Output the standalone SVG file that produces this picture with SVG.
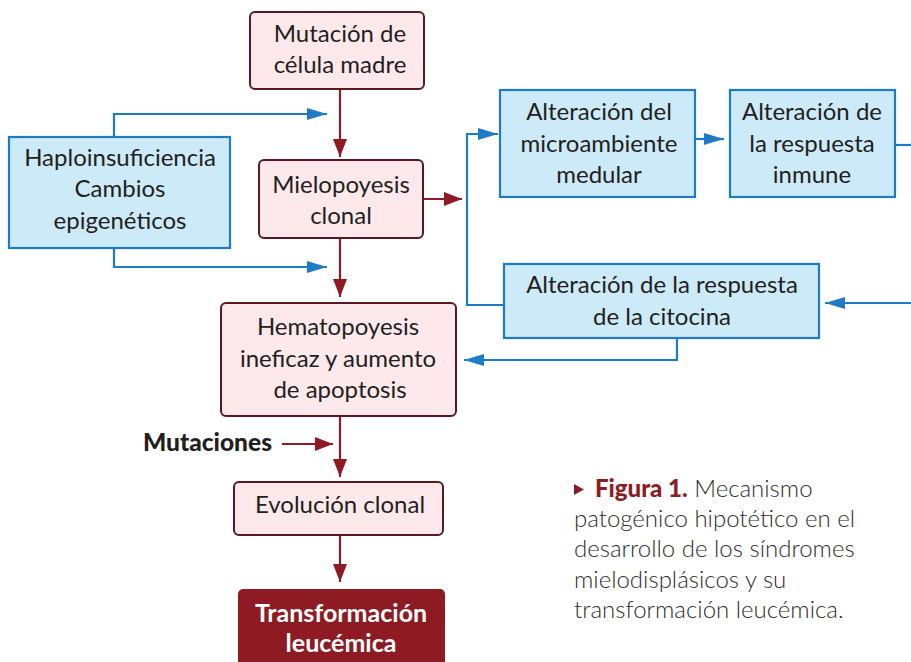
<svg xmlns="http://www.w3.org/2000/svg" width="911" height="662" viewBox="0 0 911 662">
<defs>
<style>
.pk{fill:#fde9eb;stroke:#5a1820;stroke-width:2}
.bl{fill:#cdeaf9;stroke:#1f7bc3;stroke-width:2.2}
.t{font-family:Lato,"Noto Sans",sans-serif;font-size:24px;fill:#231f20;text-anchor:middle}
.rl{fill:none;stroke:#8e1b24;stroke-width:2.2}
.bll{fill:none;stroke:#1f7bc3;stroke-width:2.2}
.cap{font-family:Lato,"Noto Sans",sans-serif;font-size:24px;fill:#2e2e2e;font-weight:300}
</style>
<marker id="ar" viewBox="0 0 18 14" refX="18" refY="7" markerWidth="18" markerHeight="14" markerUnits="userSpaceOnUse" orient="auto"><path d="M0,0 L18,7 L0,14 Z" fill="#8e1b24"/></marker>
<marker id="ab" viewBox="0 0 20 12" refX="20" refY="6" markerWidth="20" markerHeight="12" markerUnits="userSpaceOnUse" orient="auto"><path d="M0,0 L20,6 L0,12 Z" fill="#1f7bc3"/></marker>
</defs>
<rect width="911" height="662" fill="#ffffff"/>
<g id="connectors">
<path class="rl" d="M340,89 V157" marker-end="url(#ar)"/>
<path class="rl" d="M340,238 V297" marker-end="url(#ar)"/>
<path class="rl" d="M423,199 H462" marker-end="url(#ar)"/>
<path class="rl" d="M340,416 V477" marker-end="url(#ar)"/>
<path class="rl" d="M282,444 H333" marker-end="url(#ar)"/>
<path class="rl" d="M340,535 V582" marker-end="url(#ar)"/>
<path class="bll" d="M114,137 V114 H327" marker-end="url(#ab)"/>
<path class="bll" d="M114,248 V267 H327" marker-end="url(#ab)"/>
<path class="bll" d="M504,305 H467 V134 H498" marker-end="url(#ab)"/>
<path class="bll" d="M695,139 H724" marker-end="url(#ab)"/>
<path class="bll" d="M895,145 H911"/>
<path class="bll" d="M911,303 H825" marker-end="url(#ab)"/>
<path class="bll" d="M677,338 V360 H464" marker-end="url(#ab)"/>
</g>
<g id="n-mutacion">
<rect class="pk" x="250" y="12" width="174" height="77" rx="5"/>
<text class="t" x="340" y="42">Mutación de</text>
<text class="t" x="340" y="73">célula madre</text>
</g>
<g id="n-haplo">
<rect class="bl" x="9" y="137" width="221" height="111"/>
<text class="t" x="120" y="166">Haploinsuficiencia</text>
<text class="t" x="120" y="197">Cambios</text>
<text class="t" x="120" y="229">epigenéticos</text>
</g>
<g id="n-mielo">
<rect class="pk" x="259" y="160" width="164" height="78" rx="5"/>
<text class="t" x="341" y="193">Mielopoyesis</text>
<text class="t" x="341" y="224">clonal</text>
</g>
<g id="n-micro">
<rect class="bl" x="500" y="90" width="195" height="107"/>
<text class="t" x="599" y="120">Alteración del</text>
<text class="t" x="599" y="152">microambiente</text>
<text class="t" x="599" y="183">medular</text>
</g>
<g id="n-inmune">
<rect class="bl" x="730" y="90" width="165" height="107"/>
<text class="t" x="812" y="120">Alteración de</text>
<text class="t" x="812" y="152">la respuesta</text>
<text class="t" x="812" y="183">inmune</text>
</g>
<g id="n-citocina">
<rect class="bl" x="504" y="264" width="315" height="74"/>
<text class="t" x="662" y="293">Alteración de la respuesta</text>
<text class="t" x="662" y="325">de la citocina</text>
</g>
<g id="n-hemato">
<rect class="pk" x="221" y="303" width="235" height="113" rx="5"/>
<text class="t" x="338" y="335">Hematopoyesis</text>
<text class="t" x="338" y="367">ineficaz y aumento</text>
<text class="t" x="340" y="398">de apoptosis</text>
</g>
<g id="n-mutaciones">
<text x="143" y="451" style="font-family:Lato,'Noto Sans',sans-serif;font-size:24.5px;font-weight:900;fill:#231f20">Mutaciones</text>
</g>
<g id="n-evolucion">
<rect class="pk" x="234" y="482" width="209" height="53" rx="5"/>
<text class="t" x="340" y="513">Evolución clonal</text>
</g>
<g id="n-transf">
<rect x="238" y="589" width="207" height="80" rx="5" fill="#8e1b24"/>
<text class="t" x="341" y="622" style="fill:#ffffff;font-weight:bold;font-size:25px">Transformación</text>
<text class="t" x="341" y="652" style="fill:#ffffff;font-weight:bold;font-size:25px">leucémica</text>
</g>
<g id="caption">
<path d="M574,484 L584,489.5 L574,495 Z" fill="#8e1b24"/>
<text class="cap" x="595" y="497"><tspan style="font-weight:900;fill:#8e1b24">Figura 1.</tspan> Mecanismo</text>
<text class="cap" x="574" y="527">patogénico hipotético en el</text>
<text class="cap" x="574" y="557">desarrollo de los síndromes</text>
<text class="cap" x="574" y="588">mielodisplásicos y su</text>
<text class="cap" x="574" y="618">transformación leucémica.</text>
</g>
</svg>
